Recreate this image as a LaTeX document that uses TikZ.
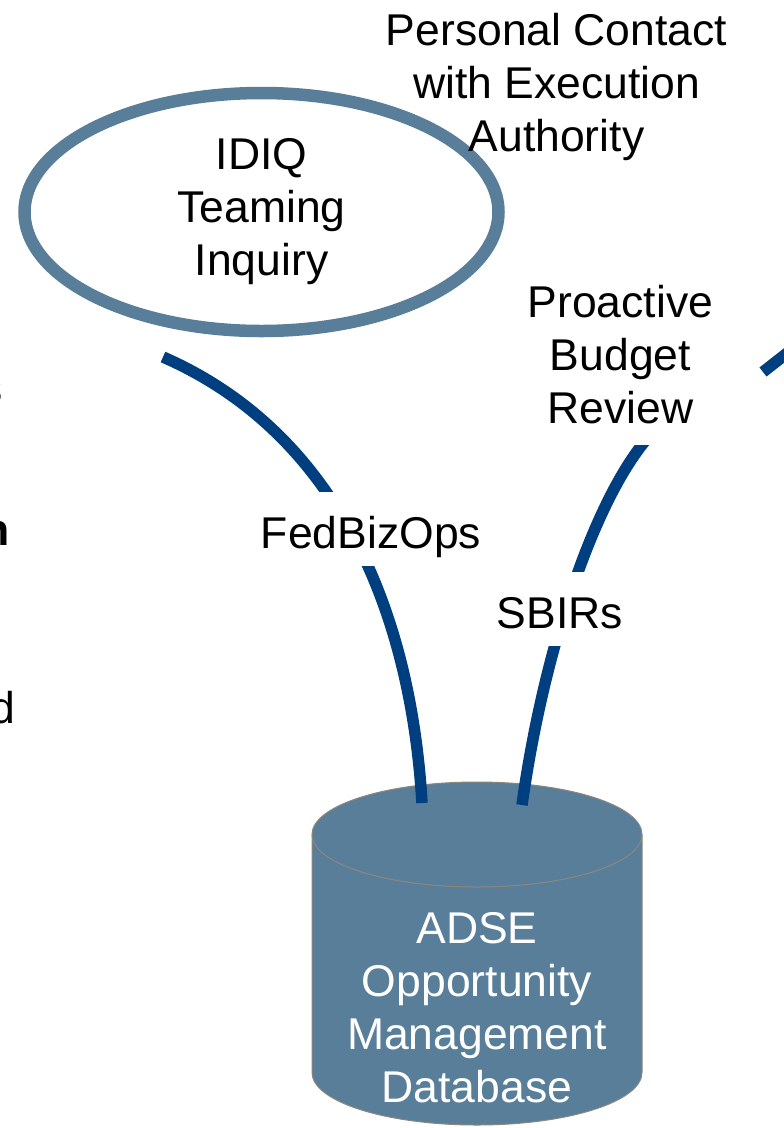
\documentclass[tikz,border=0pt]{standalone}
\usepackage{fontspec}
\setmainfont{Liberation Sans}
\usetikzlibrary{shapes.geometric}
\definecolor{slate}{RGB}{89,126,154}
\definecolor{navy}{RGB}{0,63,127}
\definecolor{dbedge}{RGB}{140,135,125}
\begin{document}
\begin{tikzpicture}[x=1pt,y=-1pt,
  txt/.style={font=\fontsize{44.5}{53}\selectfont, align=center, inner sep=0pt},
  conn/.style={draw=navy, line width=11.5pt},
  lbl/.style={txt, fill=white, text height=56pt, text depth=18pt, anchor=base}]
\useasboundingbox (0,0) rectangle (784,1128);
\clip (0,0) rectangle (784,1128);
\fill[white] (0,0) rectangle (784,1128);

% IDIQ ellipse
\node[txt, ellipse, draw=slate, line width=12.5pt, fill=white,
      minimum width=474pt, minimum height=238pt] (idiq) at (261.5,212) {IDIQ\\Teaming\\Inquiry};

% Personal contact
\node[txt, anchor=north] (pc) at (556.5,13) {Personal Contact\\with Execution\\Authority};

% Database cylinder
\filldraw[fill=slate, draw=dbedge, line width=1pt]
  (312,834.5) -- (312,1072.5)
  arc[start angle=180, end angle=360, x radius=165pt, y radius=52.5pt]
  -- (642,834.5)
  arc[start angle=0, end angle=180, x radius=165pt, y radius=52.5pt] -- cycle;
\draw[dbedge, line width=1pt] (312,834.5)
  arc[start angle=180, end angle=360, x radius=165pt, y radius=52.5pt];
\node[txt, text=white, anchor=north] (db) at (477,912) {ADSE\\Opportunity\\Management\\Database};

% connectors
\coordinate (fA) at (163,357);
\coordinate (fB) at (422,803);
\coordinate (sA) at (655,430);
\coordinate (sB) at (522,805);
\coordinate (rA) at (763,372);
\coordinate (rB) at (800,343);
\draw[conn] (fA) .. controls (330,430) and (410,600) .. (fB);
\draw[conn] (sA) .. controls (600,485) and (545,640) .. (sB);
\draw[conn] (rA) -- (rB);

% labels
\node[lbl] (fbo) at (371,548) {FedBizOps};
\node[lbl] (sbir) at (560,628) {SBIRs};
\node[txt, anchor=north, fill=white, inner ysep=21pt] (pbr) at (620.5,264) {Proactive\\Budget\\Review};

% cut-off text fragments at the left edge
\node[txt, anchor=base east] (fr1) at (2.5,403) {s};
\node[txt, font=\fontsize{44.5}{53}\selectfont\bfseries, anchor=base east] (fr2) at (10,545) {n};
\node[txt, anchor=base east] (fr3) at (15,723) {d};
\end{tikzpicture}
\end{document}
